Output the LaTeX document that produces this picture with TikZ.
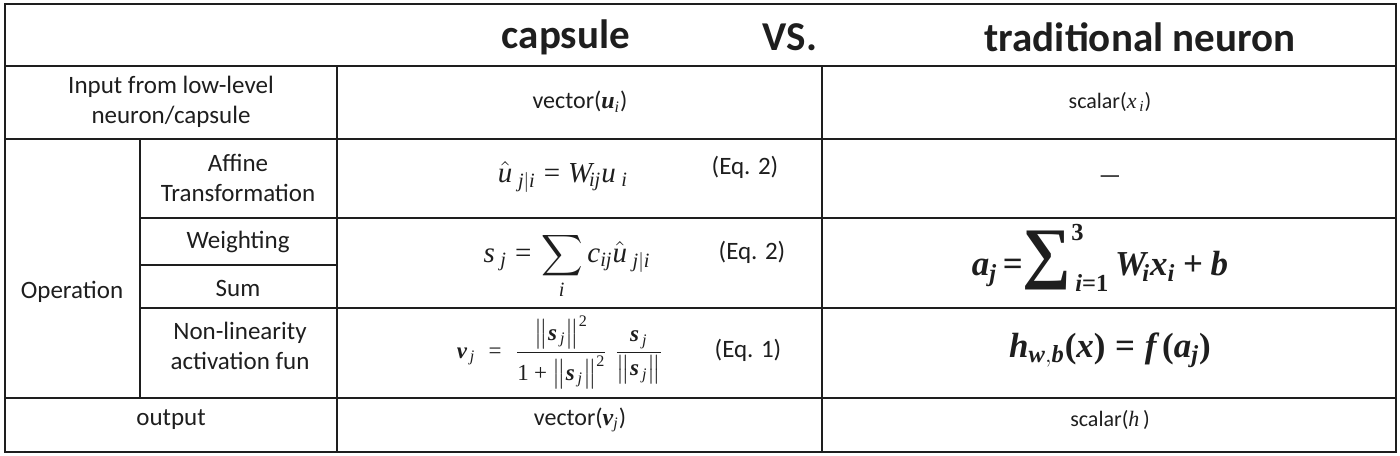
\documentclass[tikz,border=0pt]{standalone}
\usepackage{amsmath}
\usepackage{fontspec}
\setmainfont{Carlito}
\newfontfamily\tms{Liberation Serif}
\newcommand{\mi}[1]{\text{\tms\itshape #1}}
\newcommand{\mbi}[1]{\text{\tms\bfseries\itshape #1}}
\newcommand{\mbr}[1]{\text{\tms\bfseries #1}}
\newcommand{\mr}[1]{\text{\tms #1}}
\definecolor{ink}{HTML}{1E1E1E}
\tikzset{
  grid/.style={draw=ink, line width=1pt},
  frame/.style={draw=ink, line width=1.4pt},
  head/.style={text=ink, font=\bfseries\fontsize{20.5}{24}\selectfont},
  lab/.style={text=ink, align=center, font=\fontsize{12.5}{15}\selectfont},
  val/.style={text=ink, align=center, font=\fontsize{12}{15}\selectfont},
  sval/.style={text=ink, align=center, font=\fontsize{11}{14}\selectfont},
  eqn/.style={text=ink, font=\fontsize{14.5}{17}\selectfont},
  beqn/.style={text=ink, font=\fontsize{17.5}{20}\selectfont},
  veqn/.style={text=ink, font=\fontsize{11.5}{13}\selectfont},
}
\begin{document}
\begin{tikzpicture}[x=0.5pt,y=-0.5pt]
\useasboundingbox (0,0) rectangle (1400,455);
% grid
\draw[grid] (5,66) -- (1396,66);
\draw[grid] (5,139) -- (1396,139);
\draw[grid] (140,218) -- (1396,218);
\draw[grid] (140,265) -- (337,265);
\draw[grid] (140,308) -- (1396,308);
\draw[grid] (5,398) -- (1396,398);
\draw[grid] (140,139) -- (140,398);
\draw[grid] (337,66) -- (337,452);
\draw[grid] (822,66) -- (822,452);
\draw[frame] (5,4) rectangle (1396,452);
% header
\node[head] (hcap) at (566,37) {capsule};
\node[head] (hvs) at (790,37) {VS.};
\node[head] (htrad) at (1140,37) {traditional neuron};
% input row
\node[lab] (inlab) at (171,102) {Input from low-level\\neuron/capsule};
\node[val] (incap) at (580,102) {vector($\mbi{u}_{\mi{i}}$)};
\node[sval] (intrad) at (1110,102) {scalar($\mi{x}_{\,\mi{i}}$)};
% affine row
\node[lab] (aflab) at (238,178) {Affine\\Transformation};
\node[eqn] (afcap) at (563,177) {$\hat{\mi{u}}_{\;\mi{j}|\mi{i}}\;\mr{=}\;\mi{W}_{\!\mi{ij}}\mi{u}_{\;\mi{i}}$};
\node[lab] (afeq) at (745,167) {(Eq. 2)};
\node[lab] (aftrad) at (1110,180) {—};
% weighting / sum
\node[lab] (oplab) at (72,292) {Operation};
\node[lab] (wlab) at (238,242) {Weighting};
\node[lab] (slab) at (238,288) {Sum};
\node[eqn] (scap) at (567,266) {$\mi{s}_{\;\mi{j}}\;\mr{=}\,\displaystyle\sum_{\mi{i}}\mi{c}_{\mi{ij}}\hat{\mi{u}}_{\;\mi{j}|\mi{i}}$};
\node[lab] (seq) at (752,252) {(Eq. 2)};
\node[beqn] (strad) at (1100,258) {$\mbi{a}_{\mbi{j}}\,\mbr{=}\!\mathop{\text{\tms\bfseries\fontsize{34}{34}\selectfont ∑}}\nolimits^{\mbr{3}}_{\,\mbi{i}\mbr{=1}}\mbi{W}_{\!\mbi{i}}\mbi{x}_{\mbi{i}}\mathbin{\mbr{+}}\mbi{b}$};
% non-linearity
\node[lab] (nllab) at (240,346) {Non-linearity\\activation fun};
\node[veqn] (nlcap) at (560,352) {$\mbi{v}_{\,\mi{j}}\;\;\mr{=}\;\;\dfrac{\big\|\mbi{s}_{\,\mi{j}}\big\|^{\mr{2}}}{\mr{1}\mathbin{\mr{+}}\big\|\mbi{s}_{\,\mi{j}}\big\|^{\mr{2}}}\;\dfrac{\mbi{s}_{\,\mi{j}}}{\big\|\mbi{s}_{\,\mi{j}}\big\|}$};
\node[lab] (nleq) at (748,350) {(Eq. 1)};
\node[beqn] (nltrad) at (1110,350) {$\mbi{h}_{\mbi{w},\mbi{b}}\mbr{(}\mbi{x}\mbr{)}\;\mbr{=}\;\mbi{f}\,\mbr{(}\mbi{a}_{\mbi{j}}\mbr{)}$};
% output row
\node[lab] (outlab) at (171,420) {output};
\node[val] (outcap) at (580,420) {vector($\mbi{v}_{\mi{j}}$)};
\node[sval] (outtrad) at (1110,420) {scalar($\mi{h}$\,)};
\end{tikzpicture}
\end{document}
